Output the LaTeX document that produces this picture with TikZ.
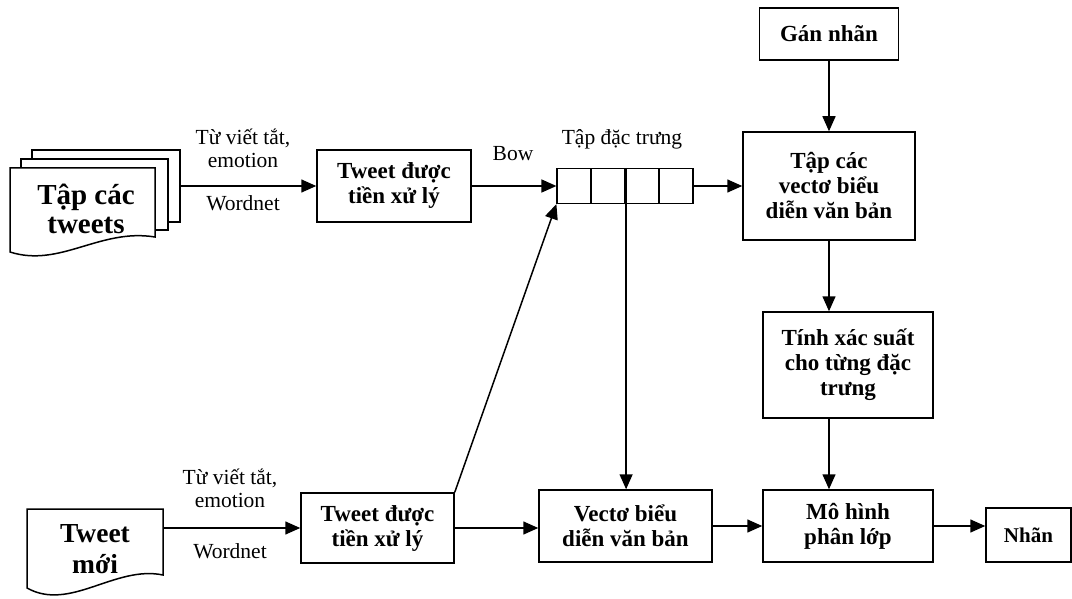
\documentclass[tikz,border=0pt]{standalone}
\usepackage{fontspec}
\setmainfont{Liberation Serif}
\usetikzlibrary{arrows.meta}

\begin{document}
\begin{tikzpicture}[x=1pt, y=-1pt, >={Triangle[length=15pt,width=13pt]}, line width=1.5pt,
    box/.style={draw, rectangle, inner sep=0pt, align=center, font=\fontsize{23}{25}\selectfont\bfseries},
    nhanchu/.style={align=center, inner sep=0pt, font=\fontsize{21.5}{23}\selectfont}]

\useasboundingbox (0,0) rectangle (1072,599);

% Tap cac tweets (3 pages)
\node[draw, fill=white, minimum width=148pt, minimum height=72pt] (trang3) at (106,186) {};
\node[draw, fill=white, minimum width=147pt, minimum height=71pt] (trang2) at (94.5,194.5) {};
\draw[fill=white] (10,168) -- (155,168) -- (155,237) .. controls (100,228) and (60,268) .. (10,252) -- cycle;
\node[align=center, font=\fontsize{29}{29}\selectfont\bfseries] (tweets) at (86,209) {Tập các\\tweets};

% Tweet moi (1 page)
\node[minimum width=136pt, minimum height=66pt] (trangmoi) at (95,542) {};
\draw (27,509) -- (163,509) -- (163,575) .. controls (115,565) and (70,612) .. (27,588) -- cycle;
\node[align=center, font=\fontsize{27.5}{31}\selectfont\bfseries] (moi) at (95,549) {Tweet\\mới};

% Boxes
\node[box, minimum width=154pt, minimum height=72pt] (tien1) at (394,186) {Tweet được\\tiền xử lý};
\node[box, minimum width=153pt, minimum height=70pt] (tien2) at (377.5,528) {Tweet được\\tiền xử lý};
\node[box, minimum width=139pt, minimum height=52pt] (gan) at (829,34) {Gán nhãn};
\node[box, minimum width=172pt, minimum height=108pt] (tapvec) at (829,186) {Tập các\\vectơ biểu\\diễn văn bản};
\node[box, minimum width=170pt, minimum height=106pt] (tinh) at (848,365) {Tính xác suất\\cho từng đặc\\trưng};
\node[box, minimum width=173pt, minimum height=72pt] (vecbd) at (625.5,526) {Vectơ biểu\\diễn văn bản};
\node[box, minimum width=170pt, minimum height=72pt] (mohinh) at (848,526) {Mô hình\\phân lớp};
\node[box, minimum width=85pt, minimum height=54pt, font=\fontsize{21}{23}\selectfont\bfseries] (nhan) at (1028.5,535) {Nhãn};

% Tap dac trung (4 cells)
\foreach \i in {1,...,4} {
    \node[draw, line width=1.2pt, minimum width=34pt, minimum height=35pt, inner sep=0pt] (o\i) at ({540+34*\i},186) {};
}
\draw[line width=2.2pt] (o2.north east) -- (o2.south east);
\node[nhanchu] (dactrung) at (622,139) {Tập đặc trưng};

% Labels
\node[nhanchu] (tat1) at (243,148) {Từ viết tắt,\\emotion};
\node[nhanchu] (wn1) at (243,203) {Wordnet};
\node[nhanchu] (bow) at (513,154) {Bow};
\node[nhanchu] (tat2) at (230,488) {Từ viết tắt,\\emotion};
\node[nhanchu] (wn2) at (230,551) {Wordnet};

% Arrows
\draw[->] (trang3.east) -- (tien1.west);
\draw[->] (tien1.east) -- (o1.west);
\draw[->] (o4.east) -- (tapvec.west);
\draw[->] (gan.south) -- (tapvec.north);
\draw[->] (tapvec.south) -- (tapvec.south |- tinh.north);
\draw[->] (tapvec.south |- tinh.south) -- (tapvec.south |- mohinh.north);
\draw[->] ([xshift=0.5pt]o2.south east) -- ([xshift=0.5pt]o2.south east |- vecbd.north);
\draw[->] (tien2.north east) -- (o1.south west);
\draw[->] (trangmoi.east |- tien2.west) -- (tien2.west);
\draw[->] (tien2.east) -- (tien2.east -| vecbd.west);
\draw[->] (vecbd.east) -- (mohinh.west);
\draw[->] (mohinh.east) -- (mohinh.east -| nhan.west);

\end{tikzpicture}
\end{document}
